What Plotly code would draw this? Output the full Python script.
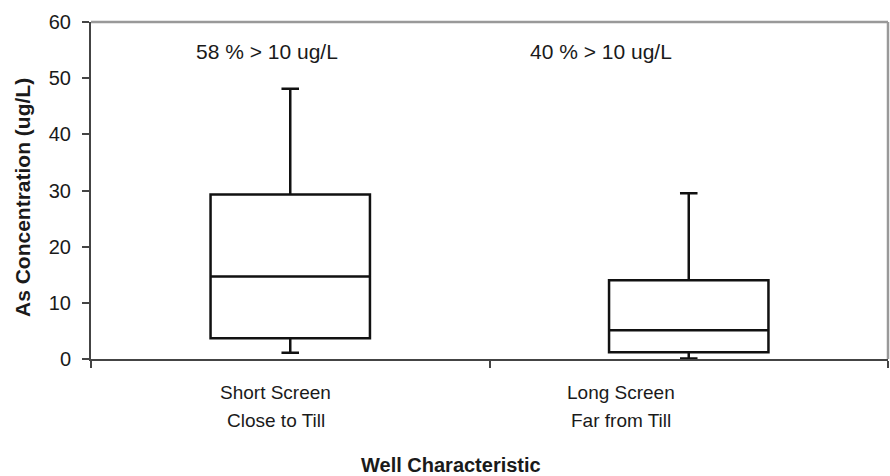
import plotly.graph_objects as go

# ---- data ----
categories = ["Short Screen<br>Close to Till", "Long Screen<br>Far from Till"]
cat_line1 = ["Short Screen", "Long Screen"]
cat_line2 = ["Close to Till", "Far from Till"]
lower_whisker = [1.1, 0.1]
q1_values = [3.7, 1.2]
median_values = [14.7, 5.1]
q3_values = [29.3, 14.0]
upper_whisker = [48.1, 29.5]
exceed_labels = ["58 % > 10 ug/L", "40 % > 10 ug/L"]
y_ticks = [0, 10, 20, 30, 40, 50, 60]

FONT = "Liberation Sans, Arial, sans-serif"
TXT = "#1a1a1a"

fig = go.Figure()
for i in range(len(categories)):
    fig.add_trace(go.Box(
        x=[i],
        q1=[q1_values[i]], median=[median_values[i]], q3=[q3_values[i]],
        lowerfence=[lower_whisker[i]], upperfence=[upper_whisker[i]],
        width=0.4, whiskerwidth=0.11,
        fillcolor="white",
        line=dict(color="#111111", width=2.5),
        boxpoints=False, showlegend=False, hoverinfo="skip",
        name=categories[i],
    ))

fig.update_layout(
    width=890, height=476,
    margin=dict(l=91, r=2, t=22, b=117),
    paper_bgcolor="white", plot_bgcolor="white",
    font=dict(family=FONT, color=TXT, size=19),
    xaxis=dict(
        range=[-0.5, 1.5], tickvals=[-0.5, 0.5, 1.5], ticktext=["", "", ""],
        ticks="outside", ticklen=7, tickwidth=2, tickcolor="#444444",
        showline=True, linecolor="#444444", linewidth=2,
        showgrid=False, zeroline=False, fixedrange=True,
    ),
    yaxis=dict(
        range=[0, 60], tickvals=y_ticks,
        ticks="outside", ticklen=7, tickwidth=2, tickcolor="#444444",
        showline=True, linecolor="#444444", linewidth=2,
        showgrid=False, zeroline=False,
        tickfont=dict(size=20, family=FONT, color=TXT),
        ticklabelstandoff=7,
        fixedrange=True,
    ),
)

# plot-area border (top and right)
fig.add_shape(type="line", xref="paper", yref="paper", x0=0, x1=1, y0=1, y1=1,
              line=dict(color="#999999", width=2.5))
fig.add_shape(type="line", xref="paper", yref="paper", x0=1, x1=1, y0=0, y1=1,
              line=dict(color="#999999", width=2.5))

# annotations
ann = []
exceed_x = [-0.058, 0.78]
for i, t in enumerate(exceed_labels):
    ann.append(dict(x=exceed_x[i], y=(359 - 52) / 337, xref="x", yref="paper",
                    text=t, showarrow=False, xanchor="center", yanchor="middle",
                    font=dict(size=21, family=FONT, color=TXT)))
cat_x = [-0.036, 0.83]
for i in range(len(categories)):
    ann.append(dict(x=cat_x[i], y=-(392 - 359) / 337, xref="x", yref="paper",
                    text=cat_line1[i], showarrow=False, xanchor="center", yanchor="middle",
                    font=dict(size=19, family=FONT, color=TXT)))
    ann.append(dict(x=cat_x[i], y=-(421 - 359) / 337, xref="x", yref="paper",
                    text=cat_line2[i], showarrow=False, xanchor="center", yanchor="middle",
                    font=dict(size=19, family=FONT, color=TXT)))
ann.append(dict(x=(451 - 91) / 797, y=-(465 - 359) / 337, xref="paper", yref="paper",
                text="<b>Well Characteristic</b>", showarrow=False,
                xanchor="center", yanchor="middle",
                font=dict(size=20, family=FONT, color=TXT)))
ann.append(dict(x=(22 - 91) / 797, y=(359 - 198) / 337, xref="paper", yref="paper",
                text="<b>As Concentration (ug/L)</b>", showarrow=False, textangle=-90,
                xanchor="center", yanchor="middle",
                font=dict(size=21, family=FONT, color=TXT)))
fig.update_layout(annotations=ann)

fig.write_html("out.html",
               config={"displayModeBar": False, "staticPlot": True},
               post_script="document.body.style.margin='0';document.body.style.overflow='hidden';")
